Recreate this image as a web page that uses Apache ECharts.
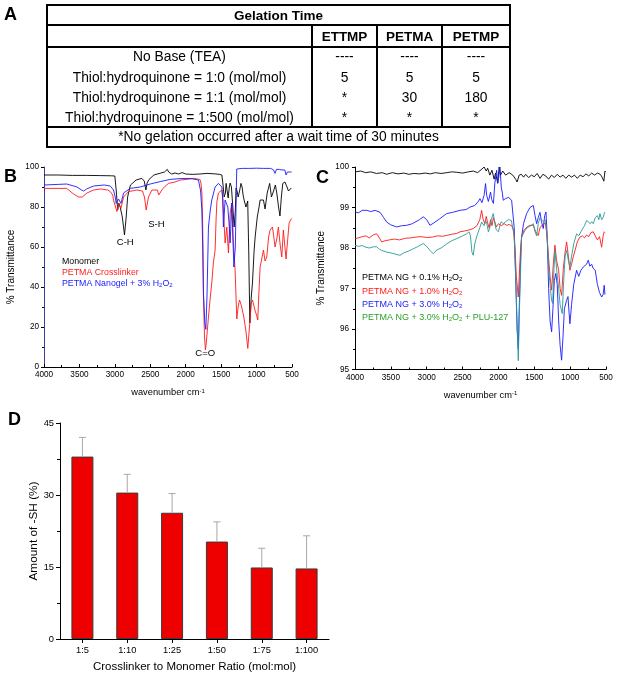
<!DOCTYPE html>
<html><head><meta charset="utf-8">
<script src="https://cdn.jsdelivr.net/npm/echarts@6/dist/echarts.min.js"></script>
<style>
html,body{margin:0;padding:0;background:#fff;}
#wrap{position:relative;width:619px;height:677px;overflow:hidden;font-family:'Liberation Sans',Arial,sans-serif;}
#chart{position:absolute;left:0;top:0;width:619px;height:677px;}
.hl{position:absolute;height:2px;background:#000;}
.vl{position:absolute;width:2px;background:#000;}
.t{position:absolute;transform:translate(-50%,-50%);white-space:pre;font-size:13.8px;line-height:1;color:#000;}
.b{font-weight:bold;font-size:13.5px;}
</style></head>
<body>
<div id="wrap"><div id="chart"></div></div>
<script>
// ---------------- DATA ----------------
const tableTitle = 'Gelation Time';
const tableColumns = ['ETTMP', 'PETMA', 'PETMP'];
const tableRowLabels = ['No Base (TEA)', 'Thiol:hydroquinone = 1:0 (mol/mol)', 'Thiol:hydroquinone = 1:1 (mol/mol)', 'Thiol:hydroquinone = 1:500 (mol/mol)'];
const tableValues = [['----', '----', '----'], ['5', '5', '5'], ['*', '30', '180'], ['*', '*', '*']];
const tableNote = '*No gelation occurred after a wait time of 30 minutes';

const specXTicks = [500, 4000, 500]; // min, max, interval

const specB_monomer = [[4000,96],[3800,96],[3600,95.8],[3400,95.8],[3200,95.7],[3050,95.6],[3000,95.5],[2980,88],[2960,78.5],[2945,82],[2925,80],[2895,75],[2864,66],[2840,75],[2820,85],[2780,91],[2700,93.5],[2620,94.3],[2585,93],[2562,88.5],[2545,92],[2520,93.7],[2450,96],[2350,97],[2300,97.5],[2260,98.8],[2240,97.5],[2200,96.5],[2150,97],[2100,96.5],[2050,97.2],[2000,96.5],[1900,96.3],[1800,96.5],[1700,96.8],[1600,96.6],[1520,96.3],[1490,96],[1470,90],[1458,85],[1440,87],[1430,91.8],[1415,88],[1401,84.5],[1385,90],[1373,92],[1355,90],[1335,80],[1317,70],[1300,78],[1289,89.5],[1275,88],[1260,85],[1240,88],[1220,91.8],[1204,90],[1190,86],[1176,83.5],[1150,80],[1125,83],[1110,57],[1095,22],[1075,35],[1058,42],[1035,58],[1020,65],[990,75],[965,80],[950,83.5],[930,84],[903,83.5],[880,79],[850,87],[815,91.8],[790,85],[760,88],[735,91],[715,87],[690,80],[670,75.5],[650,85],[630,91.8],[600,92.5],[570,90],[550,88],[530,89],[510,89.5]];
const specB_crosslinker = [[4000,89.3],[3800,89.3],[3680,89.3],[3600,87],[3560,86],[3512,85],[3460,85],[3441,84.5],[3394,87],[3300,88.5],[3200,89],[3100,88.5],[3065,87.7],[3030,86],[3019,83.5],[2990,80],[2971,77.7],[2948,81.8],[2914,79.3],[2877,85],[2807,87.7],[2689,88.5],[2610,88],[2582,85],[2558,78.5],[2525,85],[2477,88.5],[2400,88.5],[2380,86],[2370,85],[2322,89.3],[2243,91.8],[2150,92.5],[2078,93.5],[1980,93.8],[1890,94.3],[1800,93.8],[1785,92],[1772,87],[1760,70],[1750,37],[1735,15],[1722,8.5],[1710,12],[1679,25],[1650,36],[1632,42],[1610,52],[1585,58.5],[1570,75],[1560,82.6],[1538,87],[1490,88.5],[1475,84],[1468,78.5],[1444,62],[1420,70],[1397,57],[1373,77],[1349,82],[1327,62],[1303,48.5],[1290,35],[1279,24],[1260,30],[1241,33.5],[1225,32],[1210,30],[1180,25],[1150,18],[1124,9.3],[1100,20],[1075,32],[1058,33.5],[1040,31],[1020,28],[1000,26],[983,23.5],[970,35],[950,50],[930,53.5],[903,58.5],[880,53],[856,55],[830,65],[809,68.5],[776,70],[760,66],[739,60],[715,64],[692,70],[670,62],[644,55],[622,68.5],[600,60],[584,54],[565,62],[541,72],[520,73.5],[504,74.3]];
const specB_nanogel = [[4000,91],[3800,91.3],[3680,91.5],[3580,90.5],[3535,90],[3470,88.5],[3441,88],[3400,89],[3300,90.5],[3150,91],[3065,90.5],[3019,88.5],[2995,85],[2981,81.8],[2948,84],[2914,81.8],[2877,87],[2783,89.3],[2642,90],[2501,91.5],[2360,92.7],[2219,93.8],[2078,94.2],[1940,94.3],[1820,93.5],[1790,88],[1772,78.5],[1760,60],[1750,37],[1730,22],[1716,18.8],[1700,35],[1679,70],[1655,78],[1632,83.5],[1585,90],[1538,91.8],[1490,90],[1478,84],[1468,70],[1444,83.5],[1406,80],[1385,70],[1373,62],[1349,82],[1335,65],[1320,50],[1300,60],[1290,80],[1280,99],[1200,99.3],[1100,99.3],[1000,99.4],[900,99.3],[800,99.3],[760,98.5],[739,96.8],[720,98.8],[680,98.8],[640,98.5],[620,97.5],[600,98.5],[584,96],[565,97.5],[540,97],[520,97.5],[505,97.5]];

const specC_01 = [[4000,99.88],[3920,99.9],[3850,99.86],[3780,99.88],[3700,99.84],[3620,99.86],[3560,99.82],[3480,99.86],[3400,99.83],[3320,99.85],[3250,99.82],[3180,99.84],[3100,99.83],[3020,99.85],[2950,99.83],[2880,99.86],[2800,99.84],[2720,99.86],[2650,99.88],[2580,99.87],[2500,99.85],[2420,99.88],[2350,99.9],[2290,99.86],[2230,99.95],[2200,100],[2170,99.9],[2150,99.97],[2120,99.8],[2090,99.92],[2060,99.7],[2040,99.85],[2010,99.6],[1990,100],[1970,99.8],[1940,99.9],[1900,99.8],[1850,99.86],[1800,99.8],[1760,99.7],[1740,99.63],[1710,99.8],[1680,99.82],[1650,99.75],[1620,99.82],[1580,99.74],[1540,99.8],[1500,99.76],[1460,99.84],[1420,99.72],[1380,99.82],[1340,99.78],[1300,99.7],[1260,99.8],[1220,99.74],[1180,99.82],[1140,99.75],[1100,99.8],[1060,99.72],[1020,99.8],[980,99.75],[940,99.8],[900,99.72],[860,99.8],[820,99.76],[780,99.83],[740,99.78],[700,99.85],[660,99.8],[620,99.85],[580,99.82],[555,99.75],[530,99.65],[515,99.9],[505,99.88]];
const specC_10 = [[4000,98.23],[3950,98.25],[3900,98.28],[3850,98.3],[3800,98.25],[3740,98.33],[3698,98.35],[3660,98.25],[3628,98.15],[3580,98.18],[3520,98.2],[3450,98.22],[3380,98.2],[3300,98.24],[3220,98.25],[3150,98.27],[3080,98.28],[3000,98.26],[2920,98.27],[2850,98.3],[2780,98.29],[2722,98.31],[2650,98.34],[2580,98.36],[2536,98.4],[2470,98.42],[2400,98.45],[2351,98.48],[2300,98.55],[2260,98.7],[2234,98.93],[2215,98.72],[2190,98.6],[2170,98.78],[2150,98.62],[2130,98.5],[2110,98.7],[2090,98.55],[2070,98.75],[2050,98.65],[2030,98.52],[2000,98.6],[1960,98.55],[1920,98.6],[1885,98.56],[1850,98.58],[1816,98.55],[1790,98.45],[1770,98],[1750,97.3],[1723,96.79],[1705,97.5],[1690,98],[1677,98.27],[1640,98.45],[1600,98.52],[1560,98.56],[1514,98.56],[1480,98.4],[1445,98.31],[1420,98.5],[1400,98.55],[1370,98.6],[1340,98.6],[1320,98.2],[1305,97.86],[1280,97.3],[1258,96.96],[1235,97.6],[1212,98.07],[1190,97.7],[1160,97.45],[1140,97.0],[1119,96.83],[1095,97.5],[1070,97.9],[1049,98.15],[1025,97.8],[1003,97.45],[980,97.6],[957,97.78],[930,97.95],[900,98.15],[864,98.27],[830,98.3],[800,98.25],[770,98.32],[740,98.28],[710,98.38],[678,98.4],[650,98.3],[620,98.2],[590,98.28],[561,98.02],[540,98.3],[525,98.4],[515,98.38]];
const specC_30 = [[4000,98.89],[3950,98.87],[3900,98.93],[3837,98.93],[3780,98.9],[3720,98.93],[3650,98.88],[3600,98.75],[3558,98.64],[3500,98.57],[3419,98.52],[3350,98.55],[3280,98.56],[3200,98.6],[3100,98.7],[3048,98.77],[3000,98.7],[2955,98.56],[2900,98.62],[2820,98.72],[2722,98.85],[2640,98.88],[2536,98.93],[2450,98.95],[2397,99.01],[2330,99.05],[2280,99.15],[2258,99.22],[2230,99.12],[2200,99.3],[2180,99.59],[2164,99.3],[2140,99.15],[2110,99.38],[2094,99.2],[2070,99.1],[2050,99.6],[2025,99.92],[2010,99.6],[1995,99.75],[1979,100],[1960,99.5],[1945,99.35],[1933,99.18],[1900,99.22],[1860,99.25],[1816,99.18],[1795,99.15],[1780,98.5],[1760,97.3],[1740,96],[1723,95.5],[1710,96.5],[1690,97.8],[1677,98.27],[1650,98.6],[1607,98.85],[1560,99.0],[1514,99.05],[1490,98.8],[1467,98.6],[1445,98.75],[1420,98.88],[1400,98.65],[1375,98.48],[1355,98.8],[1337,98.89],[1320,98.3],[1300,97],[1280,96.2],[1258,95.93],[1240,96.5],[1220,97.2],[1200,97.37],[1180,97.1],[1160,96.2],[1140,95.6],[1119,95.23],[1100,95.8],[1080,96.5],[1049,96.71],[1030,96.8],[1015,96.4],[1003,96.13],[980,96.6],[950,97.1],[910,97.45],[880,97.3],[850,97.45],[817,97.53],[790,97.55],[770,97.6],[747,97.7],[725,97.55],[700,97.6],[680,97.5],[650,97.45],[620,97.1],[590,96.9],[561,96.79],[540,96.85],[525,97.08],[515,96.85]];
const specC_30plu = [[4000,98.07],[3950,98.04],[3900,98.06],[3850,98.02],[3800,98.0],[3740,98.03],[3698,98.03],[3660,97.97],[3628,97.94],[3560,97.9],[3500,97.88],[3440,97.85],[3373,97.82],[3320,97.88],[3260,97.92],[3200,97.97],[3130,98.03],[3048,98.11],[3000,98.04],[2950,97.93],[2909,97.86],[2860,97.95],[2800,98.0],[2722,98.1],[2650,98.18],[2582,98.23],[2500,98.3],[2443,98.35],[2410,98.4],[2390,98.3],[2370,97.9],[2351,97.82],[2330,98.1],[2300,98.3],[2260,98.5],[2234,98.64],[2200,98.55],[2180,98.68],[2164,98.62],[2140,98.4],[2120,98.5],[2100,98.7],[2072,98.85],[2050,98.6],[2030,98.45],[2000,98.4],[1980,98.55],[1960,98.65],[1933,98.6],[1900,98.65],[1860,98.7],[1820,98.68],[1793,98.68],[1780,98.3],[1760,97.3],[1740,96.2],[1723,95.22],[1710,96.3],[1690,97.5],[1677,98.27],[1640,98.4],[1600,98.5],[1550,98.55],[1514,98.6],[1490,98.4],[1467,98.3],[1445,98.6],[1420,98.75],[1400,98.7],[1375,98.65],[1350,98.7],[1320,98.3],[1300,97.5],[1275,97.0],[1258,96.7],[1244,96.63],[1225,97.5],[1212,97.94],[1190,97.5],[1160,97.0],[1140,96.6],[1110,96.38],[1090,97.2],[1070,97.8],[1049,97.94],[1025,97.7],[1003,97.53],[980,97.8],[950,98.1],[910,98.35],[880,98.3],[850,98.4],[817,98.5],[800,98.55],[770,98.68],[747,98.7],[720,98.6],[700,98.65],[678,98.6],[650,98.75],[620,98.8],[600,98.7],[585,98.85],[560,98.7],[540,98.75],[525,98.85],[515,98.89]];

const peakLabels = [['C-H', 2853, 62.5], ['S-H', 2415, 71.5], ['C=O', 1724, 7]];

const ratioCategories = ['1:5', '1:10', '1:25', '1:50', '1:75', '1:100'];
const sHAmount = [38.0, 30.5, 26.3, 20.3, 14.9, 14.7];
const sHError = [4.0, 3.8, 4.0, 4.1, 4.0, 6.8];

// ---------------- TABLE (HTML) ----------------
const wrap = document.getElementById('wrap');
function el(cls, css, txt) {
  const d = document.createElement('div');
  d.className = cls; Object.assign(d.style, css);
  if (txt !== undefined) d.textContent = txt;
  wrap.appendChild(d); return d;
}
const TL = 47, TR = 510, colX = [312, 377, 442];
const rowY = [5, 25, 47, 127, 147];
rowY.forEach(y => el('hl', {left: (TL - 1) + 'px', top: (y - 1) + 'px', width: (TR - TL + 2) + 'px'}));
[TL, TR].forEach(x => el('vl', {left: (x - 1) + 'px', top: '4px', height: '144px'}));
colX.forEach(x => el('vl', {left: (x - 1) + 'px', top: '25px', height: '102px'}));
el('t b', {left: ((TL + TR) / 2) + 'px', top: '15.5px', fontSize: '13.5px'}, tableTitle);
const colCenters = [(312 + 377) / 2, (377 + 442) / 2, (442 + 510) / 2];
tableColumns.forEach((c, i) => el('t b', {left: colCenters[i] + 'px', top: '36.5px'}, c));
const dataRowY = [57, 77.5, 97.5, 117.5];
tableRowLabels.forEach((r, i) => {
  el('t', {left: ((TL + 312) / 2) + 'px', top: dataRowY[i] + 'px'}, r);
  tableValues[i].forEach((v, j) => el('t', {left: colCenters[j] + 'px', top: dataRowY[i] + 'px'}, v));
});
el('t', {left: ((TL + TR) / 2) + 'px', top: '137px'}, tableNote);

// ---------------- CHART ----------------
const FONT = "'Liberation Sans', Arial, sans-serif";
const chart = echarts.init(document.getElementById('chart'));
const plain = v => String(v);

function specXAxis(gi) {
  return {
    type: 'value', gridIndex: gi, min: specXTicks[0], max: specXTicks[1], interval: specXTicks[2], inverse: true,
    axisLine: {show: true, onZero: false, lineStyle: {color: '#000', width: 1}},
    axisTick: {show: true, inside: true, length: 3, lineStyle: {color: '#000', width: 1}},
    minorTick: {show: true, splitNumber: 2, length: 2, lineStyle: {color: '#000', width: 1}},
    axisLabel: {fontSize: 8.2, color: '#000', margin: 4, fontFamily: FONT, formatter: plain},
    splitLine: {show: false},
    name: 'wavenumber cm{sup|-1}', nameLocation: 'middle', nameGap: 21,
    nameTextStyle: {fontSize: 9.3, color: '#000', fontFamily: FONT, rich: {sup: {fontSize: 6, verticalAlign: 'top', color: '#000', fontFamily: FONT}}}
  };
}
function valAxis(gi, mn, mx, iv, name, gap, lineColor, fs, nfs, margin) {
  return {
    type: 'value', gridIndex: gi, min: mn, max: mx, interval: iv,
    axisLine: {show: true, lineStyle: {color: lineColor, width: 1}},
    axisTick: {show: true, length: 3, lineStyle: {color: '#000'}},
    minorTick: {show: true, splitNumber: 2, length: 2, lineStyle: {color: '#000'}},
    axisLabel: {fontSize: fs, color: '#000', margin: margin, fontFamily: FONT, formatter: plain},
    splitLine: {show: false},
    name: name, nameLocation: 'middle', nameGap: gap,
    nameTextStyle: {fontSize: nfs, color: '#000', fontFamily: FONT}
  };
}
function specLine(data, color, xi, z) {
  return {type: 'line', xAxisIndex: xi, yAxisIndex: xi, data: data, showSymbol: false, symbol: 'none',
    silent: true, animation: false, z: z, lineStyle: {color: color, width: 0.9}};
}

const monomerSeries = specLine(specB_monomer, '#000000', 0, 2);
monomerSeries.markPoint = {
  symbol: 'circle', symbolSize: 0, silent: true, animation: false,
  label: {show: true, position: 'inside', formatter: '{b}', color: '#000', fontSize: 9.5, fontFamily: FONT},
  data: peakLabels.map(p => ({name: p[0], coord: [p[1], p[2]]}))
};

const sub = {fontSize: 6, verticalAlign: 'bottom', fontFamily: FONT};
function legendText(x, y, text, color, fs) {
  return {type: 'text', x: x, y: y, silent: true,
    style: {text: text, fill: color, fontSize: fs, fontFamily: FONT, align: 'left', verticalAlign: 'middle',
      rich: {s: Object.assign({}, sub, {fill: color, color: color})}}};
}
function panelLabel(x, y, t) {
  return {type: 'text', x: x, y: y, silent: true,
    style: {text: t, fill: '#000', fontSize: 18, fontWeight: 'bold', fontFamily: FONT, align: 'left', verticalAlign: 'middle'}};
}

const option = {
  backgroundColor: '#fff',
  animation: false,
  grid: [
    {left: 44, top: 167, width: 248, height: 200, containLabel: false, outerBoundsMode: 'none'},
    {left: 355, top: 167, width: 251, height: 202.5, containLabel: false, outerBoundsMode: 'none'},
    {left: 60, top: 423, width: 269, height: 216, containLabel: false, outerBoundsMode: 'none'}
  ],
  xAxis: [
    specXAxis(0),
    specXAxis(1),
    {type: 'category', gridIndex: 2, data: ratioCategories,
      axisLine: {show: true, lineStyle: {color: '#000'}},
      axisTick: {show: true, alignWithLabel: true, length: 4, lineStyle: {color: '#000'}},
      axisLabel: {fontSize: 9.3, color: '#000', margin: 7, fontFamily: FONT},
      name: 'Crosslinker to Monomer Ratio (mol:mol)', nameLocation: 'middle', nameGap: 22,
      nameTextStyle: {fontSize: 11.5, color: '#000', fontFamily: FONT}}
  ],
  yAxis: [
    valAxis(0, 0, 100, 20, '% Transmittance', 28, '#3d3d9c', 8.2, 10, 5),
    valAxis(1, 95, 100, 1, '% Transmittance', 29, '#000', 8.2, 10, 6),
    Object.assign(valAxis(2, 0, 45, 15, 'Amount of -SH (%)', 19, '#000', 9.3, 11.8, 6), {
      axisTick: {show: true, length: 4, lineStyle: {color: '#000'}},
      minorTick: {show: true, splitNumber: 2, length: 3, lineStyle: {color: '#000'}}
    })
  ],
  series: [
    monomerSeries,
    specLine(specB_crosslinker, '#ff1a1a', 0, 3),
    specLine(specB_nanogel, '#1a1aff', 0, 4),
    specLine(specC_01, '#000000', 1, 2),
    specLine(specC_30, '#1a1aff', 1, 3),
    specLine(specC_10, '#ff1a1a', 1, 4),
    specLine(specC_30plu, '#2a9a94', 1, 5),
    {type: 'bar', xAxisIndex: 2, yAxisIndex: 2, data: sHAmount, barWidth: 22, silent: true,
      itemStyle: {color: '#ee0000', borderColor: '#3a3a3a', borderWidth: 1}},
    {type: 'custom', xAxisIndex: 2, yAxisIndex: 2, silent: true, z: 5,
      data: ratioCategories.map((c, i) => [i, sHAmount[i], sHAmount[i] + sHError[i]]),
      renderItem: function (params, api) {
        const p0 = api.coord([api.value(0), api.value(1)]);
        const p1 = api.coord([api.value(0), api.value(2)]);
        const hw = 3.5;
        return {type: 'group', children: [
          {type: 'line', shape: {x1: p0[0], y1: p0[1], x2: p1[0], y2: p1[1]}, style: {stroke: '#a8a8a8', lineWidth: 1}},
          {type: 'line', shape: {x1: p1[0] - hw, y1: p1[1], x2: p1[0] + hw, y2: p1[1]}, style: {stroke: '#a8a8a8', lineWidth: 1}}
        ]};
      }}
  ],
  graphic: [
    panelLabel(4, 15, 'A'),
    panelLabel(4, 177, 'B'),
    panelLabel(316, 178, 'C'),
    panelLabel(8, 420, 'D'),
    legendText(62, 262, 'Monomer', '#000000', 8.8),
    legendText(62, 272.5, 'PETMA Crosslinker', '#ff1a1a', 8.8),
    legendText(62, 283.5, 'PETMA Nanogel + 3% H{s|2}O{s|2}', '#1a1aff', 8.8),
    legendText(362, 278, 'PETMA NG + 0.1% H{s|2}O{s|2}', '#000000', 9),
    legendText(362, 292, 'PETMA NG + 1.0% H{s|2}O{s|2}', '#ff1a1a', 9),
    legendText(362, 305, 'PETMA NG + 3.0% H{s|2}O{s|2}', '#1a1aff', 9),
    legendText(362, 318, 'PETMA NG + 3.0% H{s|2}O{s|2} + PLU-127', '#2ca02c', 9)
  ]
};
chart.setOption(option);
</script>
</body></html>
